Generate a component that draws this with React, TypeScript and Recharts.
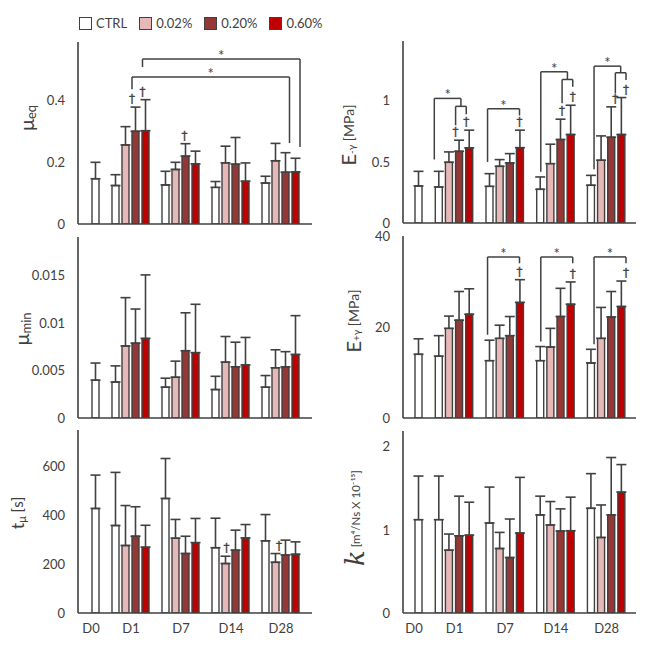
import React from 'react';
import { BarChart, Bar, XAxis, YAxis, Cell, ErrorBar, ReferenceLine, ReferenceDot } from 'recharts';

const FONT = 'Lato, "Open Sans", sans-serif';
const INK = '#404040';

const timepoints = ['D0', 'D1', 'D7', 'D14', 'D28'];
const seriesNames = ['CTRL', '0.02%', '0.20%', '0.60%'];
const seriesColors = ['#FFFFFF', '#E6B9B8', '#953735', '#C00000'];

type Arr = (number | null)[];

// ---- μeq
const muEqMean: Arr[] = [
  [0.146, 0.124, 0.126, 0.118, 0.132],
  [null, 0.255, 0.176, 0.197, 0.204],
  [null, 0.299, 0.219, 0.193, 0.167],
  [null, 0.301, 0.194, 0.138, 0.168],
];
const muEqSd: Arr[] = [
  [0.053, 0.035, 0.044, 0.019, 0.022],
  [null, 0.059, 0.023, 0.054, 0.056],
  [null, 0.078, 0.04, 0.086, 0.063],
  [null, 0.1, 0.041, 0.059, 0.044],
];
const muEqTicks = [0, 0.2, 0.4];
const muEqDaggers = ['D1|0.20%', 'D1|0.60%', 'D7|0.20%'];
const muEqBrackets = [
  { a: ['D1|0.60%'], b: ['D28|0.60%'], top: 0.532, endA: 0.506, endB: 0.248, star: true },
  { a: ['D1|0.20%'], b: ['D28|0.20%'], top: 0.474, endA: 0.435, endB: 0.261, star: true },
];

// ---- μmin
const muMinMean: Arr[] = [
  [0.004, 0.0038, 0.00325, 0.003, 0.00325],
  [null, 0.0076, 0.0043, 0.0059, 0.0053],
  [null, 0.0079, 0.0071, 0.0054, 0.0054],
  [null, 0.0084, 0.0069, 0.0056, 0.0067],
];
const muMinSd: Arr[] = [
  [0.0018, 0.0017, 0.00095, 0.0014, 0.00123],
  [null, 0.0051, 0.0017, 0.0027, 0.0019],
  [null, 0.0036, 0.004, 0.0026, 0.0016],
  [null, 0.0067, 0.0051, 0.0029, 0.0041],
];
const muMinTicks = [0, 0.005, 0.01, 0.015];

// ---- tμ
const tMuMean: Arr[] = [
  [429, 359, 470, 268, 296],
  [null, 277, 307, 203, 208],
  [null, 315, 244, 258, 238],
  [null, 270, 289, 308, 241],
];
const tMuSd: Arr[] = [
  [137, 218, 164, 121, 108],
  [null, 164, 77, 30, 36],
  [null, 121, 71, 82, 61],
  [null, 90, 99, 55, 51],
];
const tMuTicks = [0, 200, 400, 600];
const tMuDaggers = ['D14|0.02%', 'D28|0.02%'];

// ---- E-γ
const eMinusMean: Arr[] = [
  [0.303, 0.295, 0.3, 0.276, 0.309],
  [null, 0.497, 0.464, 0.486, 0.514],
  [null, 0.587, 0.492, 0.683, 0.702],
  [null, 0.615, 0.617, 0.724, 0.724],
];
const eMinusSd: Arr[] = [
  [0.12, 0.128, 0.104, 0.101, 0.081],
  [null, 0.085, 0.055, 0.159, 0.199],
  [null, 0.091, 0.076, 0.167, 0.249],
  [null, 0.145, 0.143, 0.24, 0.303],
];
const eMinusTicks = [0, 0.5, 1];
const eMinusDaggers = ['D1|0.20%', 'D1|0.60%', 'D7|0.60%', 'D14|0.20%', 'D14|0.60%', 'D28|0.20%', 'D28|0.60%'];
const eMinusBrackets = [
  { a: ['D1|CTRL'], b: ['D1|0.20%', 'D1|0.60%'], top: 1.02, endA: 0.52, endB: 0.955, star: true },
  { a: ['D1|0.20%'], b: ['D1|0.60%'], top: 0.955, endA: 0.8, endB: 0.89, star: false },
  { a: ['D7|CTRL'], b: ['D7|0.60%'], top: 0.935, endA: 0.5, endB: 0.88, star: true },
  { a: ['D14|CTRL'], b: ['D14|0.20%', 'D14|0.60%'], top: 1.238, endA: 0.42, endB: 1.175, star: true },
  { a: ['D14|0.20%'], b: ['D14|0.60%'], top: 1.175, endA: 0.98, endB: 1.115, star: false },
  { a: ['D28|CTRL'], b: ['D28|0.20%', 'D28|0.60%'], top: 1.284, endA: 0.44, endB: 1.23, star: true },
  { a: ['D28|0.20%'], b: ['D28|0.60%'], top: 1.23, endA: 1.06, endB: 1.17, star: false },
];

// ---- E+γ
const ePlusMean: Arr[] = [
  [14.0, 13.6, 12.6, 12.6, 12.1],
  [null, 19.7, 17.5, 15.6, 17.5],
  [null, 21.5, 18.1, 22.3, 22.2],
  [null, 22.8, 25.4, 25.0, 24.5],
];
const ePlusSd: Arr[] = [
  [3.4, 4.5, 4.5, 3.1, 3.0],
  [null, 2.7, 2.9, 4.1, 6.8],
  [null, 6.3, 4.2, 6.2, 5.6],
  [null, 5.6, 5.0, 4.9, 5.6],
];
const ePlusTicks = [0, 20, 40];
const ePlusDaggers = ['D7|0.60%', 'D14|0.60%', 'D28|0.60%'];
const ePlusBrackets = [
  { a: ['D7|CTRL'], b: ['D7|0.60%'], top: 35.4, endA: 18.3, endB: 34.0, star: true },
  { a: ['D14|CTRL'], b: ['D14|0.60%'], top: 35.4, endA: 16.8, endB: 34.0, star: true },
  { a: ['D28|CTRL'], b: ['D28|0.60%'], top: 35.4, endA: 16.2, endB: 34.0, star: true },
];

// ---- k
const kMean: Arr[] = [
  [1.123, 1.123, 1.083, 1.18, 1.26],
  [null, 0.756, 0.776, 1.059, 0.909],
  [null, 0.929, 0.667, 0.986, 1.18],
  [null, 0.937, 0.962, 0.99, 1.455],
];
const kSd: Arr[] = [
  [0.525, 0.525, 0.432, 0.226, 0.417],
  [null, 0.194, 0.194, 0.282, 0.391],
  [null, 0.477, 0.464, 0.267, 0.691],
  [null, 0.396, 0.67, 0.404, 0.331],
];
const kTicks = [0, 1, 2];

type Slot = { key: string; t: number; s: number; value: number | null; err: [number, number] | null };
type Bracket = { a: string[]; b: string[]; top: number; endA: number; endB: number; star: boolean };

function buildSlots(mean: Arr[], sd: Arr[]): Slot[] {
  const slots: Slot[] = [];
  timepoints.forEach((t, ti) => {
    if (ti > 0) slots.push({ key: `gap${ti}`, t: ti, s: -1, value: null, err: null });
    seriesNames.forEach((s, si) => {
      const v = mean[si][ti];
      if (v == null) return;
      slots.push({ key: `${t}|${s}`, t: ti, s: si, value: v, err: [0, sd[si][ti] as number] });
    });
  });
  return slots;
}

type Frame = { containerLeft: number; plotLeft: number; plotTop: number; plotW: number; plotH: number; pad: number };

const frameLine = { stroke: INK, strokeWidth: 1.6 };

function Panel(props: {
  mean: Arr[]; sd: Arr[]; domain: [number, number]; ticks: number[];
  daggers?: string[]; brackets?: Bracket[]; title: React.ReactNode; titlePos: [number, number];
  frame: Frame; showX?: boolean;
}) {
  const { mean, sd, domain, ticks, daggers = [], brackets = [], title, titlePos, frame, showX = false } = props;
  const slots = buildSlots(mean, sd);
  const idxOf = (k: string) => slots.findIndex((s) => s.key === k);
  const xOf = (keys: string[]) => keys.reduce((acc, k) => acc + idxOf(k), 0) / keys.length;
  const topM = 10;
  const rightM = 10;
  const bottomH = showX ? 32 : 1;
  const bottomM = showX ? 0 : 9;
  const yW = frame.plotLeft - frame.containerLeft;
  const width = yW + frame.plotW + rightM;
  const height = topM + frame.plotH + bottomH + bottomM;
  const containerTop = frame.plotTop - topM;

  const anchors: string[] = [];
  timepoints.forEach((_, ti) => {
    const g = slots.filter((s) => s.t === ti && s.s >= 0);
    if (g.length === 1) anchors.push(g[0].key);
    else if (g.length > 1) anchors.push(g[1].key);
  });

  const xTick = (p: any) => {
    const slot = slots.find((s) => s.key === p.payload.value);
    if (!slot) return <g />;
    const single = slots.filter((s) => s.t === slot.t && s.s >= 0).length === 1;
    const dx = single ? -4 : 6;
    return (
      <text x={p.x + dx} y={p.y} dy="0.71em" textAnchor="middle" fill={INK} fontSize={13} fontFamily={FONT}>
        {timepoints[slot.t]}
      </text>
    );
  };

  const titleContent = () => {
    const cx = titlePos[0] - frame.containerLeft;
    const cy = titlePos[1] - containerTop;
    return (
      <text x={cx} y={cy} transform={`rotate(-90 ${cx} ${cy})`} textAnchor="middle" dominantBaseline="central" fill={INK} fontFamily={FONT}>
        {title}
      </text>
    );
  };

  const lines: React.ReactNode[] = [];
  const stars: React.ReactNode[] = [];
  brackets.forEach((br, i) => {
    const xa = xOf(br.a);
    const xb = xOf(br.b);
    const segs = [
      [{ x: xa, y: br.endA }, { x: xa, y: br.top }],
      [{ x: xa, y: br.top }, { x: xb, y: br.top }],
      [{ x: xb, y: br.top }, { x: xb, y: br.endB }],
    ];
    segs.forEach((sg, j) => {
      lines.push(
        <ReferenceLine key={`br${i}-${j}`} xAxisId="ann" segment={sg as any} stroke={INK} strokeWidth={1.5} ifOverflow="visible" />
      );
    });
    if (br.star) {
      stars.push(
        <ReferenceDot
          key={`st${i}`}
          xAxisId="ann"
          x={(xa + xb) / 2}
          y={br.top}
          r={0}
          ifOverflow="visible"
          shape={(p: any) => (
            <text x={p.cx} y={p.cy + 2} textAnchor="middle" fill={INK} fontSize={15} fontFamily={FONT}>*</text>
          )}
        />
      );
    }
  });

  const daggerDots = daggers.map((k) => {
    const slot = slots[idxOf(k)];
    const top = (slot.value as number) + (slot.err as [number, number])[1];
    return (
      <ReferenceDot
        key={`dg${k}`}
        xAxisId="ann"
        x={idxOf(k)}
        y={top}
        r={0}
        ifOverflow="visible"
        shape={(p: any) => (
          <text
            x={p.cx}
            y={p.cy - 4}
            textAnchor="middle"
            fill={INK}
            stroke={INK}
            strokeWidth={0.3}
            opacity={0.99}
            fontSize={12}
            fontFamily='"DejaVu Sans", sans-serif'
          >
            †
          </text>
        )}
      />
    );
  });

  return (
    <div style={{ position: 'absolute', left: frame.containerLeft, top: containerTop }}>
      <BarChart width={width} height={height} data={slots} margin={{ top: topM, right: rightM, bottom: bottomM, left: 0 }} barSize={7}>
        <XAxis
          dataKey="key"
          type="category"
          padding={{ left: frame.pad, right: frame.pad }}
          height={bottomH}
          axisLine={frameLine}
          tickLine={false}
          tickSize={0}
          tickMargin={11}
          ticks={showX ? anchors : undefined}
          interval={0}
          tick={showX ? xTick : false}
        />
        <XAxis
          xAxisId="ann"
          type="number"
          orientation="top"
          domain={[-0.5, slots.length - 0.5]}
          padding={{ left: frame.pad, right: frame.pad }}
          height={0}
          tick={false}
          tickLine={false}
          axisLine={frameLine}
          allowDataOverflow
        />
        <YAxis
          type="number"
          domain={domain}
          ticks={ticks}
          allowDataOverflow
          width={yW}
          axisLine={frameLine}
          tickLine={false}
          tickSize={0}
          tickMargin={13}
          interval={0}
          tick={{ fill: INK, fontSize: 13, fontFamily: FONT }}
          label={{ content: titleContent } as any}
        />
        <YAxis
          yAxisId="frame"
          orientation="right"
          type="number"
          domain={[0, 1]}
          width={0}
          tick={false}
          tickLine={false}
          axisLine={frameLine}
        />
        <Bar dataKey="value" isAnimationActive={false} stroke={INK} strokeWidth={1.4}>
          {slots.map((s) => (
            <Cell key={s.key} fill={s.s >= 0 ? seriesColors[s.s] : 'none'} />
          ))}
          <ErrorBar dataKey="err" width={5} stroke={INK} strokeWidth={1.6} direction="y" />
        </Bar>
        {lines}
        {stars}
        {daggerDots}
      </BarChart>
    </div>
  );
}

const leftCol = { containerLeft: 0, plotLeft: 78, plotW: 234, pad: 12 };
const rightCol = { containerLeft: 330, plotLeft: 403, plotW: 233, pad: 10 };

function Legend() {
  return (
    <div style={{ position: 'absolute', left: 79, top: 16, display: 'flex', alignItems: 'center', fontFamily: FONT, fontSize: 13, color: INK, height: 14 }}>
      {seriesNames.map((n, i) => (
        <div key={n} style={{ display: 'flex', alignItems: 'center', marginRight: 12 }}>
          <span style={{ display: 'inline-block', width: 11, height: 11, border: `1.5px solid ${INK}`, background: seriesColors[i], marginRight: 4 }} />
          <span>{n}</span>
        </div>
      ))}
    </div>
  );
}

export default function App() {
  return (
    <div style={{ position: 'absolute', left: 0, top: 0, width: 649, height: 646, background: '#fff', overflow: 'hidden' }}>
      <Legend />
      <Panel
        mean={muEqMean} sd={muEqSd} domain={[0, 0.587]} ticks={muEqTicks}
        daggers={muEqDaggers} brackets={muEqBrackets}
        frame={{ ...leftCol, plotTop: 42, plotH: 182 }}
        titlePos={[26, 118]}
        title={<><tspan fontSize={20}>μ</tspan><tspan fontSize={13} dy={5}>eq</tspan></>}
      />
      <Panel
        mean={muMinMean} sd={muMinSd} domain={[0, 0.0191]} ticks={muMinTicks}
        frame={{ ...leftCol, plotTop: 237, plotH: 181 }}
        titlePos={[21, 329]}
        title={<><tspan fontSize={20}>μ</tspan><tspan fontSize={13} dy={5}>min</tspan></>}
      />
      <Panel
        mean={tMuMean} sd={tMuSd} domain={[0, 751]} ticks={tMuTicks}
        daggers={tMuDaggers}
        frame={{ ...leftCol, plotTop: 430, plotH: 183 }}
        titlePos={[17, 513]}
        showX
        title={<><tspan fontSize={18}>t</tspan><tspan fontSize={11} dy={4}>μ</tspan><tspan fontSize={15} dy={-4}> [s]</tspan></>}
      />
      <Panel
        mean={eMinusMean} sd={eMinusSd} domain={[0, 1.49]} ticks={eMinusTicks}
        daggers={eMinusDaggers} brackets={eMinusBrackets}
        frame={{ ...rightCol, plotTop: 41, plotH: 182 }}
        titlePos={[348, 135]}
        title={<><tspan fontSize={20}>E</tspan><tspan fontSize={10} dy={3}>-γ</tspan><tspan fontSize={14} dy={-3}>  [MPa]</tspan></>}
      />
      <Panel
        mean={ePlusMean} sd={ePlusSd} domain={[0, 40]} ticks={ePlusTicks}
        daggers={ePlusDaggers} brackets={ePlusBrackets}
        frame={{ ...rightCol, plotTop: 236, plotH: 182 }}
        titlePos={[353, 321]}
        title={<><tspan fontSize={20}>E</tspan><tspan fontSize={10} dy={3}>+γ</tspan><tspan fontSize={14} dy={-3}>  [MPa]</tspan></>}
      />
      <Panel
        mean={kMean} sd={kSd} domain={[0, 2.19]} ticks={kTicks}
        frame={{ ...rightCol, plotTop: 431, plotH: 182 }}
        titlePos={[355, 518]}
        showX
        title={<><tspan fontSize={26} fontStyle="italic" fontFamily='"DejaVu Serif", serif'>k</tspan><tspan fontSize={11.5}>  [m⁴/Ns X 10⁻¹⁵]</tspan></>}
      />
    </div>
  );
}
